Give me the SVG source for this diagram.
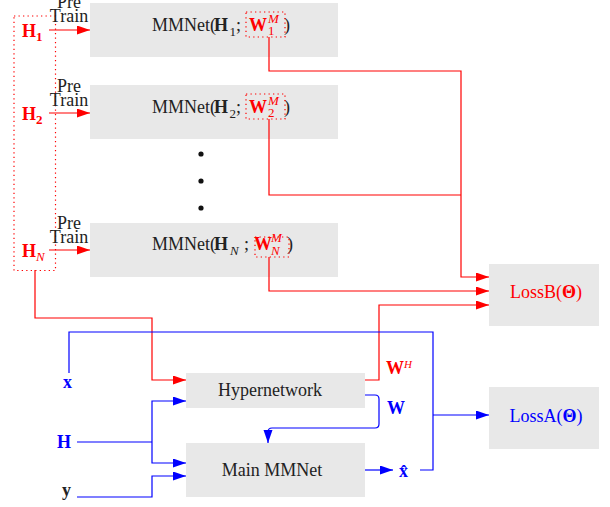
<svg xmlns="http://www.w3.org/2000/svg" width="610" height="507" viewBox="0 0 610 507">
<style>
text{font-family:"Liberation Serif","Times New Roman",serif;font-size:18px;fill:#222}
.box{fill:#e8e8e8}
.r{fill:#ff0000}
.b{fill:#0000ff}
.bd{font-weight:bold}
.it{font-style:italic}
.sm{font-size:13px}
.lr{fill:none;stroke:#ff0000;stroke-width:1.2}
.lb{fill:none;stroke:#0000ff;stroke-width:1.2}
.dot{fill:none;stroke:#ff0000;stroke-width:1.2;stroke-dasharray:1.3 3.2}
</style>
<defs>
<marker id="ar" markerUnits="userSpaceOnUse" markerWidth="14" markerHeight="10" refX="13" refY="4.5" orient="auto"><path d="M0,0 L13,4.5 L0,9 z" fill="#ff0000"/></marker>
<marker id="ab" markerUnits="userSpaceOnUse" markerWidth="14" markerHeight="10" refX="13" refY="4.5" orient="auto"><path d="M0,0 L13,4.5 L0,9 z" fill="#0000ff"/></marker>
</defs>

<g id="inputs-group">
<rect class="dot" x="14" y="16" width="41.5" height="254.5"/>
</g>

<g id="H1">
<text class="r bd" x="22" y="37">H<tspan class="sm" dy="4">1</tspan></text>
<text x="69" y="8" text-anchor="middle">Pre</text>
<text x="69" y="22" text-anchor="middle">Train</text>
</g>
<g id="H2">
<text class="r bd" x="22" y="120">H<tspan class="sm" dy="4">2</tspan></text>
<text x="69" y="92" text-anchor="middle">Pre</text>
<text x="69" y="106" text-anchor="middle">Train</text>
</g>
<g id="HN">
<text class="r bd" x="22" y="257">H<tspan class="sm it" dy="4" font-weight="normal">N</tspan></text>
<text x="69" y="229" text-anchor="middle">Pre</text>
<text x="69" y="243" text-anchor="middle">Train</text>
</g>

<g id="mmnet1">
<rect class="box" x="90" y="3" width="248" height="54"/>
<text x="152" y="31">MMNet(<tspan class="bd" x="214">H</tspan><tspan class="sm" x="229.5" y="36">1</tspan><tspan x="236" y="31">;</tspan><tspan class="r bd" x="249">W</tspan><tspan class="r sm it" x="268" y="23">M</tspan><tspan class="r sm" x="268" y="35">1</tspan><tspan x="284" y="31">)</tspan></text>
<rect class="dot" x="246" y="12" width="39" height="25"/>
</g>
<g id="mmnet2">
<rect class="box" x="90" y="85" width="248" height="54"/>
<text x="152" y="113">MMNet(<tspan class="bd" x="214">H</tspan><tspan class="sm" x="229.5" y="118">2</tspan><tspan x="236" y="113">;</tspan><tspan class="r bd" x="249">W</tspan><tspan class="r sm it" x="268" y="105">M</tspan><tspan class="r sm" x="268" y="117">2</tspan><tspan x="284" y="113">)</tspan></text>
<rect class="dot" x="246" y="94" width="39" height="25"/>
</g>
<g id="dots">
<circle cx="201" cy="154" r="2.6" fill="#111"/>
<circle cx="201" cy="181" r="2.6" fill="#111"/>
<circle cx="201" cy="208" r="2.6" fill="#111"/>
</g>
<g id="mmnetN">
<rect class="box" x="90" y="223" width="248" height="54"/>
<text x="152" y="250">MMNet(<tspan class="bd" x="214">H</tspan><tspan class="sm it" x="230" y="255">N</tspan><tspan x="244" y="250">;</tspan><tspan class="r bd" x="254">W</tspan><tspan class="r sm it" x="271" y="242">M</tspan><tspan class="r sm it" x="271" y="255">N</tspan><tspan x="287" y="250">)</tspan></text>
<rect class="dot" x="255" y="237" width="34" height="20"/>
</g>

<g id="lossB">
<rect class="box" x="489" y="264" width="110" height="62"/>
<text class="r" x="546" y="298" text-anchor="middle">LossB(<tspan class="bd">Θ</tspan>)</text>
</g>
<g id="lossA">
<rect class="box" x="489" y="387" width="110" height="62"/>
<text class="b" x="546" y="422" text-anchor="middle">LossA(<tspan class="bd">Θ</tspan>)</text>
</g>
<g id="hypernetwork">
<rect class="box" x="186" y="373" width="179" height="35"/>
<text x="270" y="396" text-anchor="middle">Hypernetwork</text>
</g>
<g id="main">
<rect class="box" x="186" y="443" width="179" height="54"/>
<text x="272" y="476" text-anchor="middle">Main MMNet</text>
</g>

<g id="x-label"><text class="b bd" x="63" y="388">x</text></g>
<g id="H-label"><text class="b bd" x="57" y="448">H</text></g>
<g id="y-label"><text class="bd" x="62" y="496">y</text></g>
<g id="xhat-label"><text class="b bd" x="399" y="477">x̂</text></g>
<g id="WH-label"><text class="r bd" x="386" y="374" font-size="15">W<tspan class="it" font-weight="normal" font-size="11" dy="-6">H</tspan></text></g>
<g id="W-label"><text class="b bd" x="387" y="414" font-size="15">W</text></g>

<g id="connectors">
<path class="lr" d="M49,30 H90" marker-end="url(#ar)"/>
<path class="lr" d="M49,113 H90" marker-end="url(#ar)"/>
<path class="lr" d="M49,250 H90" marker-end="url(#ar)"/>
<path class="lr" d="M269,37 V71 H461 V277 H489" marker-end="url(#ar)"/>
<path class="lr" d="M269,119 V195 H461"/>
<path class="lr" d="M269,257 V291 H489" marker-end="url(#ar)"/>
<path class="lr" d="M365,380 H379 V305 H489" marker-end="url(#ar)"/>
<path class="lr" d="M35,270 V318 H152 V380 H186" marker-end="url(#ar)"/>
<path class="lb" d="M69,373 V332 H433 V470 H420"/>
<path class="lb" d="M433,415 H489" marker-end="url(#ab)"/>
<path class="lb" d="M77,442 H152"/>
<path class="lb" d="M152,442 V401 H186" marker-end="url(#ab)"/>
<path class="lb" d="M152,442 V463 H186" marker-end="url(#ab)"/>
<path class="lb" d="M77,497 H152 V476 H186" marker-end="url(#ab)"/>
<path class="lb" d="M365,395 H375 Q379,395 379,399 V424 Q379,428 375,428 H272 Q268,428 268,432 V443" marker-end="url(#ab)"/>
<path class="lb" d="M365,470 H393" marker-end="url(#ab)"/>
</g>
</svg>
